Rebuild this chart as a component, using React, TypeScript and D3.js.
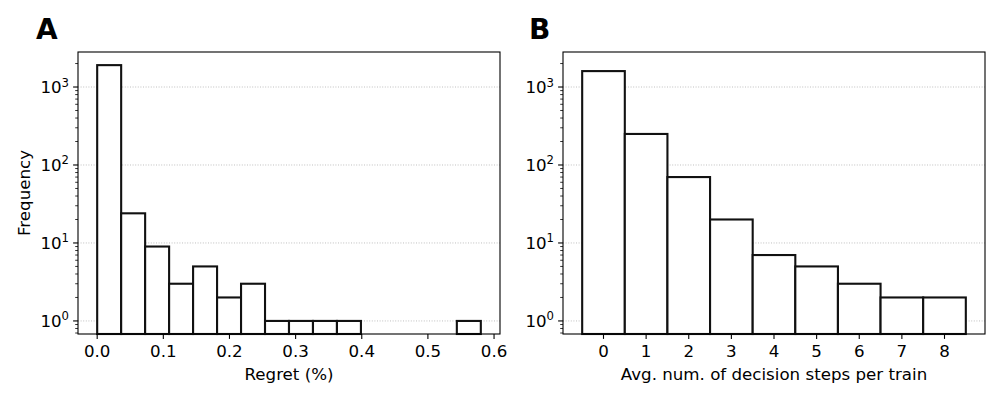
import React from "react";
import * as d3 from "d3";

// Panel A: regret histogram (16 equal bins from 0 to 0.58)
const regretBinEdges = [0, 0.58];
const regretCounts = [1908, 24, 9, 3, 5, 2, 3, 1, 1, 1, 1, 0, 0, 0, 0, 1];
const regretTicks = [0, 0.1, 0.2, 0.3, 0.4, 0.5, 0.6];

// Panel B: decision steps histogram (bins centred on integers)
const stepCategories = [0, 1, 2, 3, 4, 5, 6, 7, 8];
const stepCounts = [1600, 250, 70, 20, 7, 5, 3, 2, 2];

const yMajor = [0, 1, 2, 3];

const W = 1000;
const H = 400;
const top = 52;
const bottom = 334;
const FONT = "DejaVu Sans, sans-serif";
const FS = 16.67;

const yScale = d3.scaleLog().domain([0.68, 2812]).range([bottom, top]);

function minorTicks() {
  const out: number[] = [];
  for (let e = -1; e <= 3; e++) {
    for (let m = 2; m <= 9; m++) {
      const v = m * Math.pow(10, e);
      if (v >= 0.68 && v <= 2812) out.push(v);
    }
  }
  return out;
}

type Bar = { x0: number; x1: number; c: number };

function Panel({
  left,
  right,
  xDomain,
  bars,
  xTicks,
  fmt,
  xLabel,
  yLabel,
  letter,
  letterX,
}: {
  left: number;
  right: number;
  xDomain: [number, number];
  bars: Bar[];
  xTicks: number[];
  fmt: (v: number) => string;
  xLabel: string;
  yLabel?: string;
  letter: string;
  letterX: number;
}) {
  const x = d3.scaleLinear().domain(xDomain).range([left, right]);
  const minors = minorTicks();
  return (
    <g>
      {yMajor.map((e) => (
        <line
          key={"g" + e}
          x1={left}
          x2={right}
          y1={yScale(Math.pow(10, e))}
          y2={yScale(Math.pow(10, e))}
          stroke="#b0b0b0"
          strokeWidth={0.8}
          strokeDasharray="1,1.6"
        />
      ))}
      {bars
        .filter((b) => b.c > 0)
        .map((b, i) => (
          <rect
            key={"b" + i}
            x={x(b.x0)}
            width={x(b.x1) - x(b.x0)}
            y={yScale(b.c)}
            height={bottom - yScale(b.c)}
            fill="white"
            stroke="#111"
            strokeWidth={2.1}
          />
        ))}
      <rect x={left} y={top} width={right - left} height={bottom - top} fill="none" stroke="black" strokeWidth={1.1} />
      {yMajor.map((e) => {
        const yy = yScale(Math.pow(10, e));
        return (
          <g key={"y" + e}>
            <line x1={left - 4.9} x2={left} y1={yy} y2={yy} stroke="black" strokeWidth={1.1} />
            <text x={left - 9} y={yy + 6} textAnchor="end" fontFamily={FONT} fontSize={FS}>
              <tspan>10</tspan>
              <tspan dy={-6.5} fontSize={FS * 0.7}>
                {e}
              </tspan>
            </text>
          </g>
        );
      })}
      {minors.map((v, i) => (
        <line
          key={"m" + i}
          x1={left - 2.8}
          x2={left}
          y1={yScale(v)}
          y2={yScale(v)}
          stroke="black"
          strokeWidth={0.8}
        />
      ))}
      {xTicks.map((t) => (
        <g key={"x" + t}>
          <line x1={x(t)} x2={x(t)} y1={bottom} y2={bottom + 4.9} stroke="black" strokeWidth={1.1} />
          <text x={x(t)} y={bottom + 23} textAnchor="middle" fontFamily={FONT} fontSize={FS}>
            {fmt(t)}
          </text>
        </g>
      ))}
      <text x={(left + right) / 2} y={380} textAnchor="middle" fontFamily={FONT} fontSize={FS}>
        {xLabel}
      </text>
      {yLabel && (
        <text
          transform={`translate(30,${(top + bottom) / 2}) rotate(-90)`}
          textAnchor="middle"
          fontFamily={FONT}
          fontSize={FS}
        >
          {yLabel}
        </text>
      )}
      <text x={letterX} y={39} fontFamily={FONT} fontSize={28} fontWeight="bold">
        {letter}
      </text>
    </g>
  );
}

export default function App() {
  const nA = regretCounts.length;
  const wA = (regretBinEdges[1] - regretBinEdges[0]) / nA;
  const barsA: Bar[] = regretCounts.map((c, i) => ({
    x0: regretBinEdges[0] + i * wA,
    x1: regretBinEdges[0] + (i + 1) * wA,
    c,
  }));
  const barsB: Bar[] = stepCategories.map((s, i) => ({ x0: s - 0.5, x1: s + 0.5, c: stepCounts[i] }));
  const padA = (regretBinEdges[1] - regretBinEdges[0]) * 0.05;
  const padB = 9 * 0.05;
  return (
    <svg width={W} height={H} style={{ position: "absolute", left: 0, top: 0 }}>
      <rect width={W} height={H} fill="white" />
      <Panel
        left={78}
        right={500}
        xDomain={[regretBinEdges[0] - padA, regretBinEdges[1] + padA]}
        bars={barsA}
        xTicks={regretTicks}
        fmt={(v) => v.toFixed(1)}
        xLabel="Regret (%)"
        yLabel="Frequency"
        letter="A"
        letterX={36}
      />
      <Panel
        left={563}
        right={985}
        xDomain={[-0.5 - padB, 8.5 + padB]}
        bars={barsB}
        xTicks={stepCategories}
        fmt={(v) => String(v)}
        xLabel="Avg. num. of decision steps per train"
        letter="B"
        letterX={529}
      />
    </svg>
  );
}
